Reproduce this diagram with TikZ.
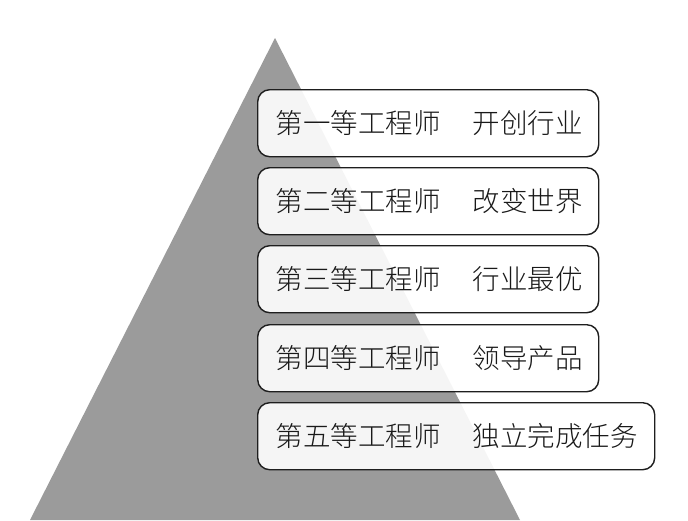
\documentclass[tikz,border=0pt]{standalone}
\usepackage{fontspec}
\newfontfamily\cjk{Noto Sans CJK SC Light}
\definecolor{tri}{RGB}{155,155,155}
\definecolor{edge}{RGB}{30,30,30}
\tikzset{
  stagebox/.style={draw=edge, line width=1.4pt, rounded corners=12pt, fill=white, fill opacity=0.9, text opacity=1,
    anchor=north west, minimum height=67pt, inner xsep=18pt,
    font=\cjk\fontsize{27.5}{30}\selectfont, text=black!90}
}
\newcommand{\gapsp}{\hspace{32pt}}
\newcommand{\linebx}[2]{\makebox[#1][l]{#2}}
\begin{document}
\begin{tikzpicture}[x=1pt,y=-1pt]
\useasboundingbox (0,0) rectangle (688,520);
\fill[tri] (275,38) -- (520,520) -- (30,520) -- cycle;
\node[stagebox] (b1) at (257,89) {\linebx{305pt}{第一等工程师\gapsp 开创行业}};
\node[stagebox] (b2) at (257,167) {\linebx{305pt}{第二等工程师\gapsp 改变世界}};
\node[stagebox] (b3) at (257,245) {\linebx{305pt}{第三等工程师\gapsp 行业最优}};
\node[stagebox] (b4) at (257,324) {\linebx{305pt}{第四等工程师\gapsp 领导产品}};
\node[stagebox] (b5) at (257,402) {\linebx{361pt}{第五等工程师\gapsp 独立完成任务}};
\end{tikzpicture}
\end{document}
